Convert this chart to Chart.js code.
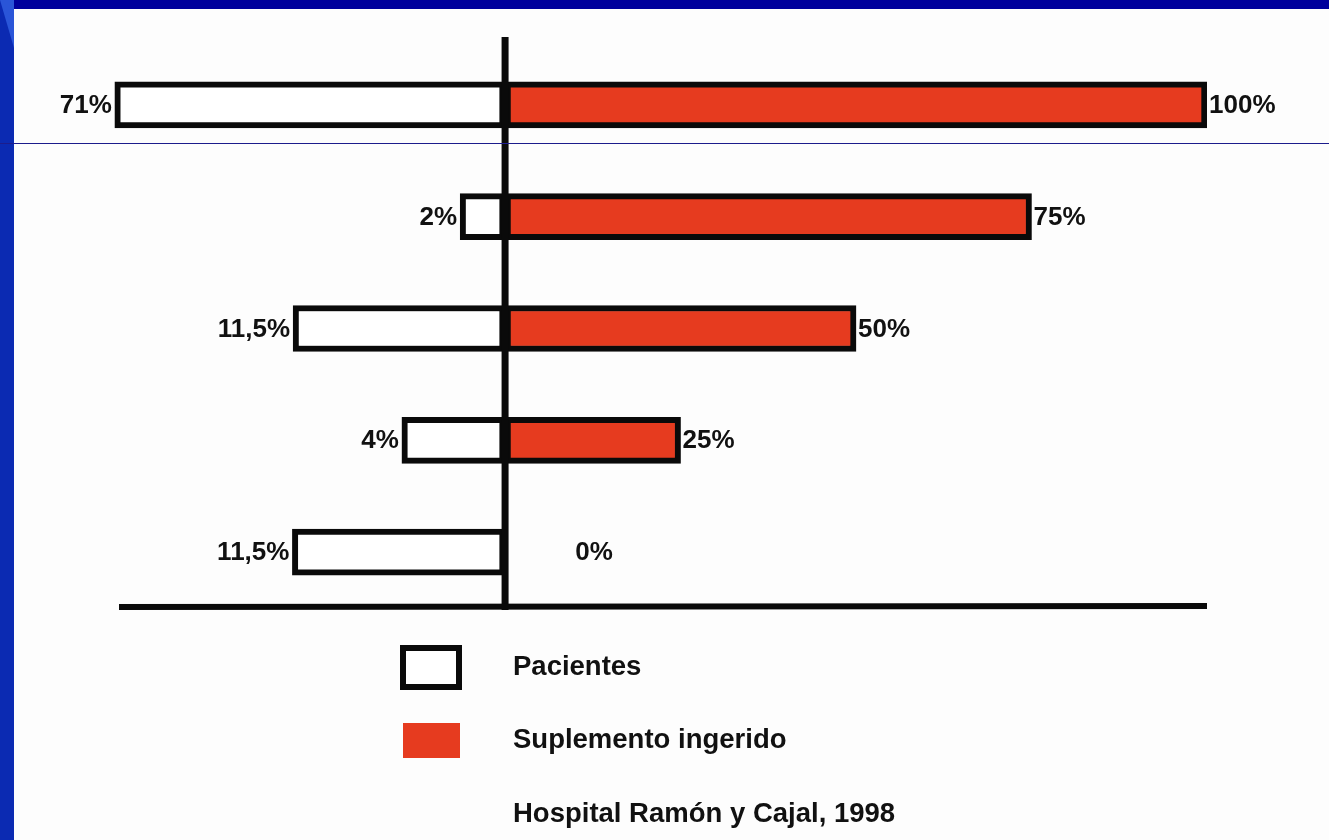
<!DOCTYPE html>
<html lang="es">
<head>
<meta charset="utf-8">
<title>Suplemento ingerido</title>
<script src="https://cdn.jsdelivr.net/npm/chart.js@4.4.0/dist/chart.umd.min.js"></script>
<style>
  html, body { margin: 0; padding: 0; }
  body { width: 1329px; height: 840px; background: #fdfdfd; position: relative; overflow: hidden; }
  #wrap { position: absolute; left: 0; top: 0; width: 1329px; height: 840px; }
  .frame-top { position: absolute; left: 0; top: 0; width: 1329px; height: 9px; background: #00009c; }
  .frame-left { position: absolute; left: 0; top: 0; width: 14px; height: 840px; background: #0b2ab2; }
  .frame-corner { position: absolute; left: 0; top: 0; width: 14px; height: 48px; background: #2a55d8;
                  clip-path: polygon(0 0, 100% 0, 100% 100%); }
  .slide-line { position: absolute; left: 0; top: 143px; width: 1329px; height: 1px; background: #1c1c8c; }
</style>
</head>
<body>
<div id="wrap"><canvas id="chart" width="1329" height="840"></canvas></div>
<div class="frame-top"></div>
<div class="frame-left"></div>
<div class="frame-corner"></div>
<div class="slide-line"></div>
<script>
// supplement level taken (one row each)
const categorias = ["100%", "75%", "50%", "25%", "0%"];
const suplemento = [100, 75, 50, 25, 0];
const suplementoEtiquetas = ["100%", "75%", "50%", "25%", "0%"];

// patients at each level (printed values)
const pacientes = [71, 2, 11.5, 4, 11.5];
const pacientesEtiquetas = ["71%", "2%", "11,5%", "4%", "11,5%"];
// the original draws the left bars off-scale, these are the lengths as drawn
// (in the same units as the right side)
const pacientesLongitud = [-55.6, -6.4, -30.2, -14.7, -30.3];

const leyendaNota = "Hospital Ramón y Cajal, 1998";

const FUENTE = "bold 26px 'Liberation Sans', Arial, sans-serif";
const FUENTE_LEYENDA = "bold 27.5px 'Liberation Sans', Arial, sans-serif";
const ROJO = "#e63b1f";

// value labels next to the bar ends
const etiquetas = {
  id: "etiquetas",
  afterDatasetsDraw(chart) {
    const ctx = chart.ctx;
    const x = chart.scales.x;
    ctx.save();
    ctx.font = FUENTE;
    ctx.fillStyle = "#111";
    ctx.textBaseline = "middle";
    chart.getDatasetMeta(0).data.forEach((bar, i) => {
      ctx.textAlign = "right";
      ctx.fillText(pacientesEtiquetas[i], bar.x - 3, bar.y + 1);
    });
    chart.getDatasetMeta(1).data.forEach((bar, i) => {
      ctx.textAlign = "left";
      let px = bar.x + 2;
      if (suplemento[i] === 0) px = x.getPixelForValue(10);
      ctx.fillText(suplementoEtiquetas[i], px, bar.y + 1);
    });
    ctx.restore();
  }
};

// zero line and base line
const ejes = {
  id: "ejes",
  afterDatasetsDraw(chart) {
    const ctx = chart.ctx;
    const x = chart.scales.x;
    const a = chart.chartArea;
    ctx.save();
    ctx.strokeStyle = "#0a0a0a";
    ctx.lineWidth = 7;
    ctx.beginPath();
    ctx.moveTo(x.getPixelForValue(0), 37);
    ctx.lineTo(x.getPixelForValue(0), a.bottom + 2);
    ctx.stroke();
    ctx.lineWidth = 6;
    ctx.beginPath();
    ctx.moveTo(x.getPixelForValue(-55), a.bottom - 1);
    ctx.lineTo(x.getPixelForValue(100), a.bottom - 2);
    ctx.stroke();
    ctx.restore();
  }
};

// legend below the chart
const leyenda = {
  id: "leyenda",
  afterDraw(chart) {
    const ctx = chart.ctx;
    const ds = chart.data.datasets;
    ctx.save();
    ctx.fillStyle = "#ffffff";
    ctx.fillRect(400, 645, 62, 45);
    ctx.strokeStyle = "#0a0a0a";
    ctx.lineWidth = 6;
    ctx.strokeRect(403, 648, 56, 39);
    ctx.fillStyle = ds[1].backgroundColor;
    ctx.fillRect(403, 723, 57, 35);
    ctx.fillStyle = "#111";
    ctx.font = FUENTE_LEYENDA;
    ctx.textAlign = "left";
    ctx.textBaseline = "alphabetic";
    ctx.fillText(ds[0].label, 513, 675);
    ctx.fillText(ds[1].label, 513, 748);
    ctx.fillText(leyendaNota, 513, 822);
    ctx.restore();
  }
};

new Chart(document.getElementById("chart"), {
  type: "bar",
  data: {
    labels: categorias,
    datasets: [
      {
        label: "Pacientes",
        data: pacientesLongitud,
        backgroundColor: "#ffffff",
        borderColor: "#0a0a0a",
        borderWidth: 6,
        borderSkipped: false,
        barThickness: 46
      },
      {
        label: "Suplemento ingerido",
        data: suplemento,
        backgroundColor: ROJO,
        borderColor: "#0a0a0a",
        borderWidth: 6,
        borderSkipped: false,
        barThickness: 46
      }
    ]
  },
  options: {
    indexAxis: "y",
    responsive: false,
    animation: false,
    layout: { padding: { left: 112, right: 122, top: 49, bottom: 232 } },
    scales: {
      x: { stacked: true, min: -56, max: 100, display: false },
      y: { stacked: true, display: false }
    },
    plugins: {
      legend: { display: false },
      tooltip: { enabled: false }
    }
  },
  plugins: [etiquetas, ejes, leyenda]
});
</script>
</body>
</html>
